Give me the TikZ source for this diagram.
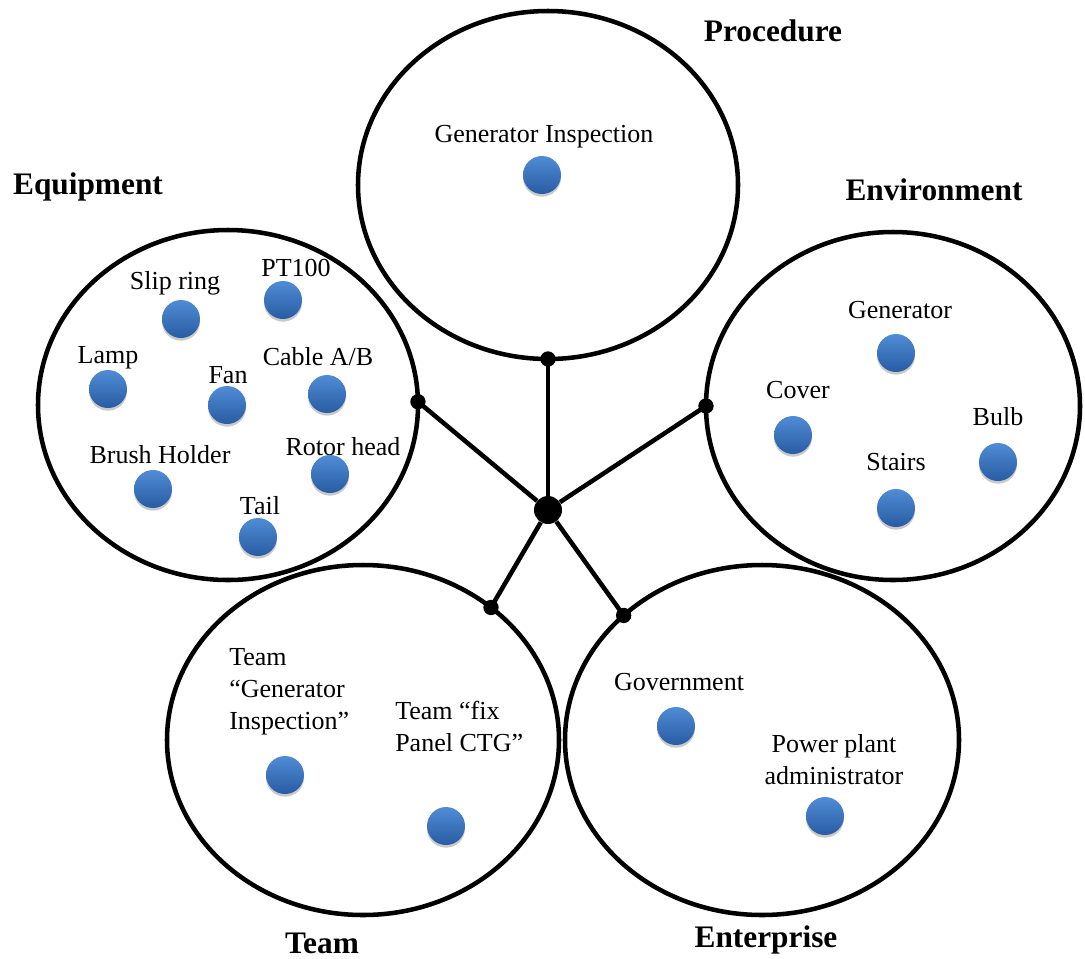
\documentclass[tikz,border=0pt]{standalone}
\usepackage{fontspec}
\setmainfont{Liberation Serif}
\usetikzlibrary{shapes.geometric,shadows}

\definecolor{ballTop}{RGB}{80,140,214}
\definecolor{ballBot}{RGB}{40,92,162}

\tikzset{
  group/.style={ellipse, draw=black, line width=3.4pt, inner sep=0pt, outer sep=0pt},
  title/.style={font=\fontsize{23.5}{27}\selectfont\bfseries, inner sep=0pt},
  lbl/.style={font=\fontsize{19.5}{24}\selectfont, inner sep=0pt},
  ball/.style={circle, inner sep=0pt, minimum size=28.5pt,
    top color=ballTop, bottom color=ballBot,
    drop shadow={shadow xshift=0pt, shadow yshift=-2pt, opacity=0.3, fill=black!70}},
  joint/.style={circle, fill=black, inner sep=0pt, minimum size=11.5pt},
  hubdot/.style={circle, fill=black, inner sep=0pt, minimum size=21pt},
  link/.style={line width=3.4pt}
}

\begin{document}
\begin{tikzpicture}[x=0.75pt, y=-0.75pt]
\useasboundingbox (0,0) rectangle (1085,958);

% the five groups
\node[group, minimum width=285pt, minimum height=261pt]   (proc)  at (548,185) {};
\node[group, minimum width=285pt, minimum height=262.5pt] (equip) at (228,405) {};
\node[group, minimum width=280.5pt, minimum height=261pt] (env)   at (893,406) {};
\node[group, minimum width=294pt, minimum height=262.5pt] (team)  at (363,740) {};
\node[group, minimum width=295.5pt, minimum height=262.5pt] (ent) at (762,740) {};

% group titles
\node[title] (tproc)  at (773,31)  {Procedure};
\node[title] (tequip) at (88,187)  {Equipment};
\node[title] (tenv)   at (934,190) {Environment};
\node[title] (tteam)  at (322,943) {Team};
\node[title] (tent)   at (766,940) {Enterprise};

% junction points on the group outlines
\coordinate (jproc)  at (proc.south);
\coordinate (jequip) at (equip.1);
\coordinate (jenv)   at (env.west);
\coordinate (jteam)  at (team.46.5);
\coordinate (jent)   at (ent.138.7);

% central hub and spokes
\node[hubdot] (hub) at (548,510) {};
\foreach \j in {jproc,jequip,jenv,jteam,jent}{
  \draw[link] (hub) -- (\j);
  \node[joint] (\j-dot) at (\j) {};
}

% Procedure
\node[lbl]  (l-gi) at (544,137) {Generator Inspection};
\node[ball] (b-gi) at (542,175) {};

% Equipment
\node[lbl]  (l-slip)  at (175,283) {Slip ring};
\node[ball] (b-slip)  at (181,319) {};
\node[lbl]  (l-pt)    at (296,268) {PT100};
\node[ball] (b-pt)    at (283,300) {};
\node[lbl]  (l-lamp)  at (108,358) {Lamp};
\node[ball] (b-lamp)  at (108,389) {};
\node[lbl]  (l-fan)   at (228,375) {Fan};
\node[ball] (b-fan)   at (227,405) {};
\node[lbl]  (l-cable) at (318,357) {Cable A/B};
\node[ball] (b-cable) at (327,394) {};
\node[lbl]  (l-brush) at (160,455) {Brush Holder};
\node[ball] (b-brush) at (153,489) {};
\node[lbl]  (l-rotor) at (343,447) {Rotor head};
\node[ball] (b-rotor) at (330,474) {};
\node[lbl]  (l-tail)  at (260,506) {Tail};
\node[ball] (b-tail)  at (258,537) {};

% Environment
\node[lbl]  (l-gen)    at (900,310) {Generator};
\node[ball] (b-gen)    at (896,353) {};
\node[lbl]  (l-cover)  at (798,390) {Cover};
\node[ball] (b-cover)  at (793,435) {};
\node[lbl]  (l-bulb)   at (998,417) {Bulb};
\node[ball] (b-bulb)   at (998,462) {};
\node[lbl]  (l-stairs) at (896,462) {Stairs};
\node[ball] (b-stairs) at (896,508) {};

% Team
\node[lbl, align=left, anchor=north west] (l-tgi) at (229,648) {Team\\“Generator\\Inspection”};
\node[ball] (b-tgi) at (285,775) {};
\node[lbl, align=left, anchor=north west] (l-tfix) at (395,701) {Team “fix\\Panel CTG”};
\node[ball] (b-tfix) at (446,826) {};

% Enterprise
\node[lbl]  (l-gov) at (679,682) {Government};
\node[ball] (b-gov) at (676,726) {};
\node[lbl, align=center] (l-ppa) at (834,760) {Power plant\\administrator};
\node[ball] (b-ppa) at (825,816) {};
\end{tikzpicture}
\end{document}
